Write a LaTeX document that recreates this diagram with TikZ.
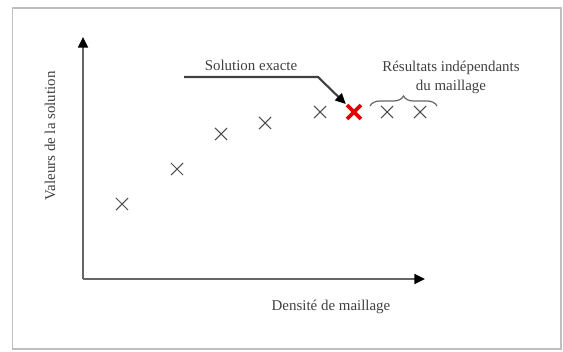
\documentclass[tikz,border=0pt]{standalone}
\usepackage{fontspec}
\setmainfont{Liberation Serif}
\usetikzlibrary{arrows.meta,shapes.misc,decorations.pathreplacing}

\begin{document}
\begin{tikzpicture}[
            x = 0.02cm, y = -0.02cm, % pixel grid, y downwards
            > = {Triangle[length=6pt,width=5.5pt,color=black]}, % arrow head style
            axis/.style = {draw=black!60, line width=1.3pt, ->},
            meshpt/.style = {cross out, draw=black!70, line width=0.6pt,
                             minimum size=0.22cm, inner sep=0pt},
            exactpt/.style = {cross out, draw=red!90!black, line width=2.2pt,
                              minimum size=0.2cm, inner sep=0pt},
            txt/.style = {text=black!75, font=\fontsize{8.5}{10.8}\selectfont, inner sep=1pt}
        ]
\useasboundingbox (0,0) rectangle (563,351);
\draw[black!25, line width=0.8pt] (12.5,8) rectangle (561,349);

% axes
\coordinate (O) at (83,279);
\coordinate (Ytop) at (83,37);
\coordinate (Xend) at (425,279);
\draw[axis] (O) -- (Ytop);
\draw[axis] (O) -- (Xend);

% results
\node[meshpt] (p1) at (122,204) {};
\node[meshpt] (p2) at (177,169) {};
\node[meshpt] (p3) at (221,134) {};
\node[meshpt] (p4) at (265,123) {};
\node[meshpt] (p5) at (320,112) {};
\node[exactpt] (ex) at (354,112) {};
\node[meshpt] (p6) at (387,112) {};
\node[meshpt] (p7) at (420,112) {};

% labels
\node[txt] (sol) at (251,65) {Solution exacte};
\node[txt, align=center] (res) at (451,77) {Résultats indépendants\\du maillage};
\node[txt, rotate=90] (ylab) at (50,136) {Valeurs de la solution};
\node[txt] (xlab) at (331,307) {Densité de maillage};

\coordinate (solstart) at (184,77);
\coordinate (solbend) at (318,77);
\draw[draw=black!75, line width=1.2pt, ->, shorten >=1pt] (solstart) -- (solbend) -- (ex);

\coordinate (brl) at (370,106);
\coordinate (brr) at (437,106);
\draw[black!60, line width=0.7pt, decorate, decoration={brace, amplitude=0.2cm}] (brl) -- (brr);

\end{tikzpicture}
\end{document}
